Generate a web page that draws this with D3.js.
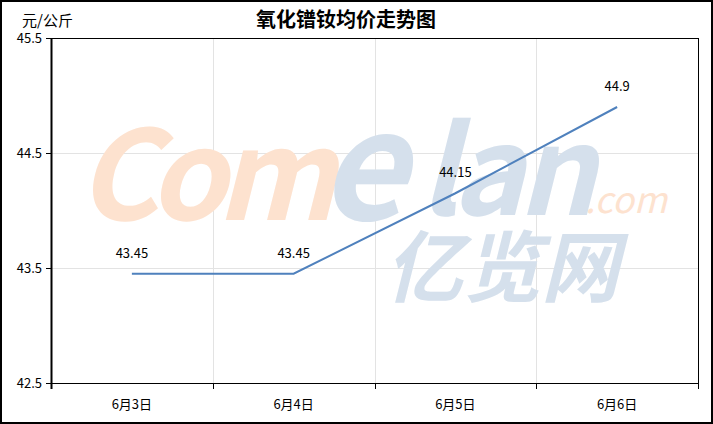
<!DOCTYPE html>
<html>
<head>
<meta charset="utf-8">
<script src="https://cdn.jsdelivr.net/npm/d3@7"></script>
<style>
  body { margin: 0; background: #fff; }
  svg { display: block; }
  text { font-family: "Noto Sans CJK SC", "Noto Sans", sans-serif; }
</style>
</head>
<body>
<div id="chart"></div>
<script>
// chart data
const categories = ['6月3日', '6月4日', '6月5日', '6月6日'];
const prices = [43.45, 43.45, 44.15, 44.9];
const yTicks = [42.5, 43.5, 44.5, 45.5];
const title = '氧化镨钕均价走势图';
const unit = '元/公斤';

const W = 713, H = 424;
const margin = {left: 51, right: 15, top: 38, bottom: 41};
const pw = W - margin.left - margin.right,
      ph = H - margin.top - margin.bottom;

const svg = d3.select('#chart').append('svg')
    .attr('width', W).attr('height', H);

// outer frame
svg.append('rect')
    .attr('x', 1).attr('y', 1)
    .attr('width', W - 2).attr('height', H - 2)
    .attr('fill', '#fff').attr('stroke', '#000').attr('stroke-width', 2);

const g = svg.append('g')
    .attr('transform', 'translate(' + margin.left + ',' + margin.top + ')');

const x = d3.scaleBand().domain(categories).range([0, pw]);
const y = d3.scaleLinear().domain([42.5, 45.5]).range([ph, 0]);

// gridlines
g.append('g').selectAll('line.h')
  .data(yTicks.slice(1, -1))
  .enter().append('line')
    .attr('x1', 0).attr('x2', pw)
    .attr('y1', d => Math.round(y(d)) + 0.5)
    .attr('y2', d => Math.round(y(d)) + 0.5)
    .attr('stroke', '#e3e3e3');

g.append('g').selectAll('line.v')
  .data(categories.slice(1))
  .enter().append('line')
    .attr('x1', d => Math.round(x(d)) + 0.5)
    .attr('x2', d => Math.round(x(d)) + 0.5)
    .attr('y1', 0).attr('y2', ph)
    .attr('stroke', '#e3e3e3');

// watermark
const wm = g.append('g')
    .attr('font-weight', 'bold').attr('font-style', 'italic')
    .attr('font-family', 'Arial, "Liberation Sans", sans-serif');
wm.append('text')
    .attr('x', 26).attr('y', 182)
    .attr('font-size', 124).attr('fill', '#fde2cf')
    .attr('letter-spacing', -10)
    .text('Com');
wm.append('text')
    .attr('x', 268).attr('y', 182)
    .attr('font-size', 150).attr('fill', '#d5e0ec')
    .text('e');
wm.append('text')
    .attr('x', 368).attr('y', 177)
    .attr('font-size', 122).attr('fill', '#d5e0ec')
    .attr('letter-spacing', -6)
    .text('lan');
wm.append('text')
    .attr('x', 534).attr('y', 175)
    .attr('font-size', 36).attr('font-weight', 'normal').attr('fill', '#fde2cf')
    .text('.com');
wm.append('text')
    .attr('x', 334).attr('y', 258)
    .attr('font-family', '"Noto Sans CJK SC", sans-serif')
    .attr('font-size', 78).attr('fill', '#d5e0ec')
    .text('亿览网');

// axes
const yAxis = d3.axisLeft(y).tickValues(yTicks).tickSize(5).tickFormat(d3.format('.1f'));
const xAxis = d3.axisBottom(x).tickSize(0);

const ya = g.append('g').attr('class', 'y axis').call(yAxis);
ya.select('.domain').remove();
ya.selectAll('line').attr('stroke', '#000');
ya.selectAll('text').attr('font-size', 13).attr('fill', '#000').attr('dx', -1);

const xa = g.append('g').attr('transform', 'translate(0,' + ph + ')').call(xAxis);
xa.select('.domain').remove();
xa.selectAll('text').attr('font-size', 13).attr('fill', '#000').attr('dy', '1.75em');
xa.selectAll('line.bt')
  .data(categories.concat(['end']))
  .enter().append('line')
    .attr('x1', (d, i) => Math.round(i * x.step()) + 0.5)
    .attr('x2', (d, i) => Math.round(i * x.step()) + 0.5)
    .attr('y1', 0).attr('y2', 6)
    .attr('stroke', '#000');

// plot frame
g.append('rect')
    .attr('x', 0.5).attr('y', 0.5)
    .attr('width', pw).attr('height', ph)
    .attr('fill', 'none').attr('stroke', '#000');
g.append('line')
    .attr('x1', 0.5).attr('x2', 0.5).attr('y1', 0).attr('y2', ph + 6)
    .attr('stroke', '#000').attr('stroke-width', 2);

// line
const cx = d => x(d) + x.bandwidth() / 2;
g.append('path')
    .datum(prices)
    .attr('fill', 'none')
    .attr('stroke', '#4f81bd')
    .attr('stroke-width', 2)
    .attr('d', d3.line().x((d, i) => cx(categories[i])).y(d => y(d)));

g.selectAll('.lbl')
  .data(prices)
  .enter().append('text')
    .attr('class', 'lbl')
    .attr('x', (d, i) => cx(categories[i]))
    .attr('y', d => y(d) - 16)
    .attr('text-anchor', 'middle')
    .attr('font-size', 13)
    .attr('fill', '#000')
    .text(d => d);

// titles
svg.append('text')
    .attr('x', 346).attr('y', 27)
    .attr('text-anchor', 'middle')
    .attr('font-size', 20).attr('font-weight', 'bold')
    .attr('fill', '#000')
    .text(title);

svg.append('text')
    .attr('x', 22).attr('y', 26)
    .attr('font-size', 15)
    .attr('fill', '#000')
    .text(unit);
</script>
</body>
</html>
